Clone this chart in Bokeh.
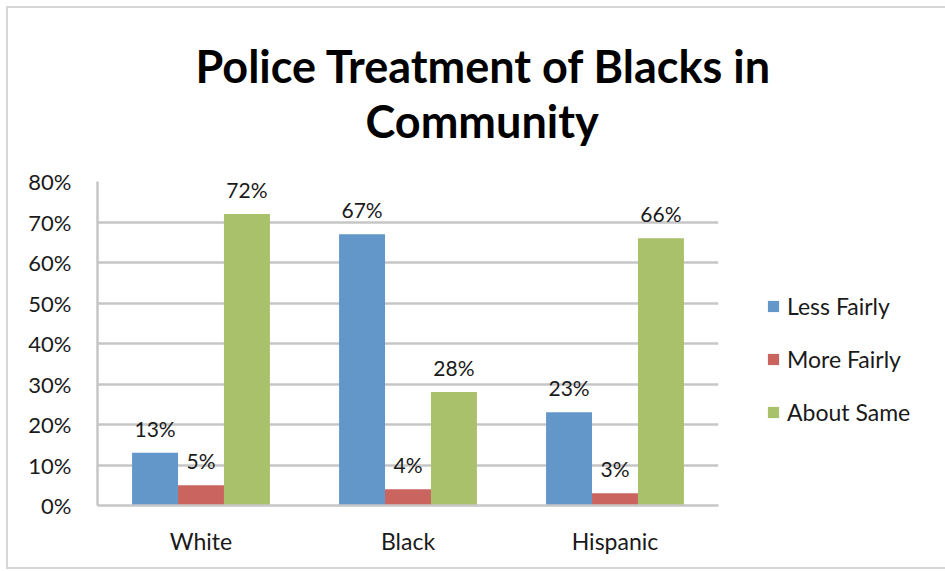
from bokeh.plotting import figure
from bokeh.models import (ColumnDataSource, FactorRange, Legend, LegendItem, Title,
                          NumeralTickFormatter, FixedTicker)
from bokeh.transform import dodge
from bokeh.core.properties import value
from bokeh.embed import file_html
from bokeh.resources import INLINE

groups = ["White", "Black", "Hispanic"]
series = ["Less Fairly", "More Fairly", "About Same"]
less_fairly = [0.13, 0.67, 0.23]
more_fairly = [0.05, 0.04, 0.03]
about_same = [0.72, 0.28, 0.66]
colors = ["#6396C9", "#C9645F", "#AAC16C"]
y_ticks = [0, 0.1, 0.2, 0.3, 0.4, 0.5, 0.6, 0.7, 0.8]
title_lines = ["Police Treatment of Blacks in", "Community"]

FONT = "Lato"

p = figure(x_range=FactorRange(*groups, range_padding=0), y_range=(0, 0.8),
           frame_width=621, frame_height=324, title=None,
           output_backend="svg", toolbar_location=None,
           min_border_left=89, min_border_top=173, min_border_bottom=62,
           min_border_right=215)
p.styles = {"border-top": "2px solid #D6D6D6", "border-left": "2px solid #D6D6D6",
            "border-bottom": "2px solid #D6D6D6",
            "margin-top": "6px", "margin-left": "6px"}

vals = [less_fairly, more_fairly, about_same]
offsets = [-0.222, 0.0, 0.222]
renderers = []
for name, v, c, off in zip(series, vals, colors, offsets):
    src = ColumnDataSource(dict(g=groups, v=v, lab=["%d%%" % round(x * 100) for x in v]))
    r = p.vbar(x=dodge("g", off, range=p.x_range), top="v", width=0.222, source=src,
               fill_color=c, line_color=None)
    renderers.append((name, r))
    p.text(x=dodge("g", off, range=p.x_range), y="v", text="lab", source=src,
           text_align="center", text_baseline="bottom", y_offset=-12,
           text_font=value(FONT), text_font_size="21px", text_color="#1a1a1a")

p.xgrid.visible = False
p.ygrid.grid_line_color = "#C6C6C6"
p.ygrid.grid_line_width = 2.5
p.yaxis.ticker = FixedTicker(ticks=y_ticks)
p.yaxis.formatter = NumeralTickFormatter(format="0%")
for ax in (p.xaxis[0], p.yaxis[0]):
    ax.axis_line_color = "#C6C6C6"
    ax.axis_line_width = 2.5
    ax.major_tick_line_color = None
    ax.minor_tick_line_color = None
    ax.major_label_text_font = FONT
    ax.major_label_text_color = "#1a1a1a"
    ax.major_label_text_font_size = "22px"
p.yaxis.major_label_standoff = 20
p.xaxis.major_label_standoff = 15
p.xaxis.major_label_text_font_size = "23px"
p.outline_line_color = None

legend = Legend(items=[LegendItem(label=n, renderers=[r]) for n, r in renderers],
                location=(48, 79), orientation="vertical",
                label_text_font=FONT, label_text_font_size="23px",
                label_text_color="#1a1a1a", glyph_width=14, glyph_height=14,
                spacing=25, border_line_color=None, background_fill_alpha=0,
                label_standoff=7, padding=0, margin=0)
p.add_layout(legend, "right")

sub = Title(text=title_lines[1], align="left", offset=268, standoff=68,
            text_font=FONT, text_font_style="bold", text_font_size="45px",
            text_color="black")
main = Title(text=title_lines[0], align="left", offset=98, standoff=-70,
             text_font=FONT, text_font_style="bold", text_font_size="45px",
             text_color="black")
p.add_layout(sub, "above")
p.add_layout(main, "above")

open("out.html", "w").write(file_html(p, INLINE))
